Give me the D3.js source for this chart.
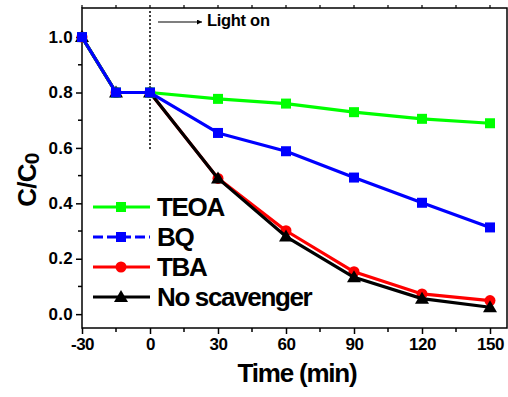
<!DOCTYPE html>
<html><head><meta charset="utf-8">
<script src="https://cdn.jsdelivr.net/npm/d3@7/dist/d3.min.js"></script>
<style>body{margin:0;background:#fff}svg{display:block}</style>
</head><body>
<svg id="c" width="508" height="397"></svg>
<script>
const times = [-30, -15, 0, 30, 60, 90, 120, 150];
const teoa = [1.0, 0.80, 0.80, 0.777, 0.760, 0.729, 0.705, 0.689];
const bq = [1.0, 0.80, 0.80, 0.654, 0.588, 0.493, 0.402, 0.313];
const tba = [1.0, 0.80, 0.80, 0.490, 0.301, 0.153, 0.073, 0.049];
const noScav = [1.0, 0.80, 0.80, 0.490, 0.280, 0.133, 0.056, 0.025];
const xTicks = [-30, 0, 30, 60, 90, 120, 150];
const yTicks = [0.0, 0.2, 0.4, 0.6, 0.8, 1.0];
const seriesNames = ["TEOA", "BQ", "TBA", "No scavenger"];

const svg = d3.select("#c");
const L = 82, R = 507, T = 8, B = 328;
const x = d3.scaleLinear().domain([-30, 157.5]).range([L, R]);
const y = d3.scaleLinear().domain([-0.05, 1.105]).range([B, T]);
const font = "'Liberation Sans', Arial, sans-serif";

// frame
svg.append("rect").attr("x", L).attr("y", T).attr("width", R - L).attr("height", B - T)
  .attr("fill", "none").attr("stroke", "#000").attr("stroke-width", 1.5);

// x axis
const xa = svg.append("g").attr("transform", `translate(0,${B})`)
  .call(d3.axisBottom(x).tickValues(xTicks).tickSize(6).tickSizeOuter(0).tickPadding(4).tickFormat(d => String(d)));
xa.select(".domain").remove();
xa.selectAll("line").attr("stroke-width", 1.5);
xa.selectAll("text").attr("font-family", font).attr("font-weight", "bold").attr("font-size", 17)
  .attr("letter-spacing", -0.5).attr("dy", "0.72em");
const xMinor = d3.range(-15, 157, 30);
svg.append("g").selectAll("line").data(xMinor).join("line")
  .attr("x1", d => x(d)).attr("x2", d => x(d)).attr("y1", B).attr("y2", B + 4)
  .attr("stroke", "#000").attr("stroke-width", 1.5);
// top ticks
svg.append("g").selectAll("line").data(d3.range(-30, 157, 15)).join("line")
  .attr("x1", d => x(d)).attr("x2", d => x(d)).attr("y1", T).attr("y2", T - 3)
  .attr("stroke", "#000").attr("stroke-width", 1.2);

// y axis
const ya = svg.append("g").attr("transform", `translate(${L},0)`)
  .call(d3.axisLeft(y).tickValues(yTicks).tickSize(6).tickSizeOuter(0).tickPadding(3).tickFormat(d3.format(".1f")));
ya.select(".domain").remove();
ya.selectAll("line").attr("stroke-width", 1.5);
ya.selectAll("text").attr("font-family", font).attr("font-weight", "bold").attr("font-size", 17)
  .attr("letter-spacing", 0.3).attr("dy", "0.3em");
svg.append("g").selectAll("line").data([0.1, 0.3, 0.5, 0.7, 0.9]).join("line")
  .attr("x1", L).attr("x2", L - 4).attr("y1", d => y(d)).attr("y2", d => y(d))
  .attr("stroke", "#000").attr("stroke-width", 1.5);

// axis titles
svg.append("text").attr("x", 297).attr("y", 382).attr("text-anchor", "middle")
  .attr("font-family", font).attr("font-weight", "bold").attr("font-size", 26).attr("letter-spacing", -1.2)
  .text("Time (min)");
const yl = svg.append("text").attr("transform", "translate(36,180) rotate(-90)").attr("text-anchor", "middle")
  .attr("font-family", font).attr("font-weight", "bold").attr("font-size", 26).attr("letter-spacing", -0.8);
yl.append("tspan").text("C/C");
yl.append("tspan").attr("font-size", 21).attr("dy", 3).text("0");

// light on line
svg.append("line").attr("x1", x(0)).attr("x2", x(0)).attr("y1", 11).attr("y2", y(0.595))
  .attr("stroke", "#000").attr("stroke-width", 1.5).attr("stroke-dasharray", "2,2");
svg.append("defs").append("marker").attr("id", "ah").attr("viewBox", "0 0 10 10").attr("refX", 10).attr("refY", 5)
  .attr("markerWidth", 8).attr("markerHeight", 5).attr("markerUnits", "userSpaceOnUse").attr("orient", "auto")
  .append("path").attr("d", "M0,0L10,5L0,10z").attr("fill", "#000");
svg.append("line").attr("x1", 158).attr("x2", 202).attr("y1", 22).attr("y2", 22)
  .attr("stroke", "#000").attr("stroke-width", 1.2).attr("marker-end", "url(#ah)");
svg.append("text").attr("x", 207).attr("y", 26).attr("font-family", font).attr("font-weight", "bold")
  .attr("font-size", 16.5).attr("letter-spacing", -0.3).text("Light on");

const line = d3.line().x((d, i) => x(times[i])).y(d => y(d));
const series = [
  {name: seriesNames[2], vals: tba, color: "#ff0000", shape: "circle", dash: null},
  {name: seriesNames[3], vals: noScav, color: "#000000", shape: "triangle", dash: null},
  {name: seriesNames[0], vals: teoa, color: "#00ff00", shape: "square", dash: null},
  {name: seriesNames[1], vals: bq, color: "#0000ff", shape: "square", dash: "10,4"},
];
function marker(g, shape, color, cx, cy) {
  if (shape === "square") {
    g.append("rect").attr("x", cx - 5).attr("y", cy - 5).attr("width", 10).attr("height", 10).attr("fill", color);
  } else if (shape === "circle") {
    g.append("circle").attr("cx", cx).attr("cy", cy).attr("r", 5.5).attr("fill", color);
  } else {
    g.append("path").attr("d", `M${cx},${cy - 7}L${cx + 7},${cy + 5}L${cx - 7},${cy + 5}Z`).attr("fill", color);
  }
}
series.forEach(s => {
  const g = svg.append("g");
  g.append("path").attr("d", line(s.vals)).attr("fill", "none").attr("stroke", s.color).attr("stroke-width", 3.2)
    .attr("stroke-linejoin", "round");
  s.vals.forEach((v, i) => marker(g, s.shape, s.color, x(times[i]), y(v)));
});

// legend
const legY = [207, 237, 267, 297];
const ordered = seriesNames.map(n => series.find(s => s.name === n));
ordered.forEach((s, i) => {
  const g = svg.append("g");
  const yy = legY[i];
  g.append("line").attr("x1", 93).attr("x2", 150).attr("y1", yy).attr("y2", yy)
    .attr("stroke", s.color).attr("stroke-width", 3.2).attr("stroke-dasharray", s.dash);
  marker(g, s.shape, s.color, 121, yy);
  g.append("text").attr("x", 157).attr("y", yy + 9).attr("font-family", font).attr("font-weight", "bold")
    .attr("font-size", 26).attr("letter-spacing", -1.35).text(s.name);
});
</script>
</body></html>
